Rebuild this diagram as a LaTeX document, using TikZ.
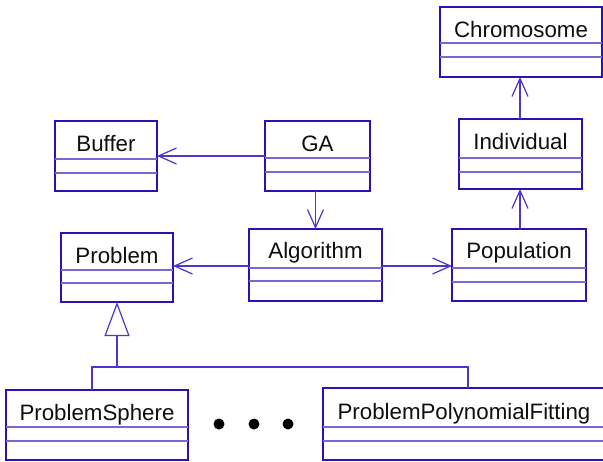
\documentclass[tikz,border=0pt]{standalone}
\usepackage{fontspec}
\setmainfont{Liberation Sans}
\usetikzlibrary{arrows.meta}
\definecolor{boxc}{RGB}{40,20,180}
\definecolor{compc}{RGB}{120,105,215}
\definecolor{connc}{RGB}{75,55,205}
\definecolor{txtc}{RGB}{15,15,15}
\newcommand\umlclass[9]{%
  \node[classbox, minimum width={#4-#2}, minimum height={#5-#3}] (#1) at ({(#2+#4)/2},{(#3+#5)/2}) {};
  \draw[comp] (#2,#6) -- (#4,#6);
  \draw[comp] (#2,#7) -- (#4,#7);
  \node[lbl] (#1t) at ({(#2+#4)/2},#8) {#9};
}
\begin{document}
\begin{tikzpicture}[x=1pt,y=-1pt,
  classbox/.style={draw=boxc, line width=1.6pt, rectangle, inner sep=0pt, outer sep=0pt},
  comp/.style={draw=compc, line width=1.4pt},
  lbl/.style={anchor=base, inner sep=0pt, text=txtc, font=\fontsize{22.3}{26}\selectfont},
  conn/.style={draw=connc, line width=1.2pt},
  assoc/.style={conn, -{Straight Barb[length=18pt,width=16pt,line width=1.2pt]}},
  inh/.style={conn, -{Triangle[open,length=34pt,width=25pt,line width=1.2pt,fill=white]}},
  dot/.style={fill=black, circle, inner sep=0pt, minimum size=11pt}]
\useasboundingbox (0,0) rectangle (603,461);
\fill[white] (0,0) rectangle (603,461);

\umlclass{chrom}{440}{7}{602}{77}{43}{57}{37}{Chromosome}
\umlclass{ind}{459}{119}{582}{189}{158}{172}{149}{Individual}
\umlclass{buf}{55}{121}{157}{191}{159}{173}{151}{Buffer}
\umlclass{ga}{265}{121}{370}{191}{158}{172}{151}{GA}
\umlclass{prob}{61}{233}{173}{302}{270}{283}{263}{Problem}
\umlclass{alg}{249}{229}{382}{301}{268}{281}{258}{Algorithm}
\umlclass{pop}{452}{229}{586}{301}{268}{282}{258}{Population}
\umlclass{ps}{6}{390}{188}{460}{427}{441}{420}{ProblemSphere}
\umlclass{ppf}{323}{388}{605}{460}{427}{441}{419}{ProblemPolynomialFitting}

% associations
\coordinate (gay) at (0,156);
\draw[assoc] (ga.west |- gay) -- (buf.east |- gay);
\draw[assoc] (ga.south -| alg.north) -- (alg.north);
\coordinate (algy) at (0,266);
\draw[assoc] (alg.west |- algy) -- (prob.east |- algy);
\draw[assoc] (alg.east |- algy) -- (pop.west |- algy);
\coordinate (popx) at (520,0);
\draw[assoc] (popx |- pop.north) -- (popx |- ind.south);
\draw[assoc] (popx |- ind.north) -- (popx |- chrom.south);

% inheritance
\coordinate (jm) at (117,367);
\coordinate (jl) at (92,367);
\coordinate (jr) at (468,367);
\draw[inh] (jm) -- (prob.south);
\draw[conn] (jl |- ps.north) -- (jl) -- (jr) -- (jr |- ppf.north);

% ellipsis dots
\node[dot] (d1) at (219,424) {};
\node[dot] (d2) at (254,424) {};
\node[dot] (d3) at (288,424) {};
\end{tikzpicture}
\end{document}
